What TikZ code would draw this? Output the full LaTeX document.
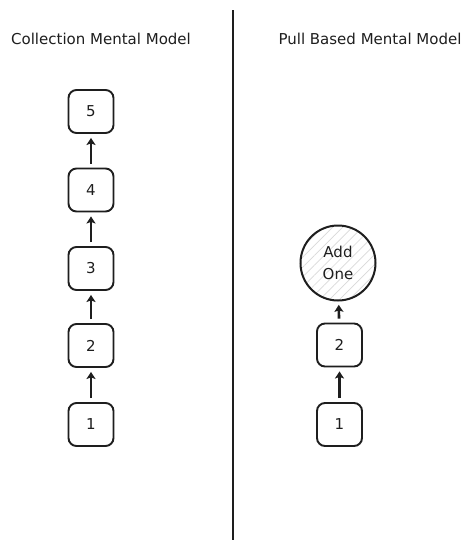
\documentclass[tikz,border=0pt]{standalone}
\usepackage{fontspec}
\setmainfont{DejaVu Sans}
\usetikzlibrary{arrows.meta,patterns.meta}
\definecolor{ink}{HTML}{1E1E1E}
\begin{document}
\begin{tikzpicture}[x=1pt,y=-1pt,
  box/.style={draw=ink,line width=1.9pt,rounded corners=8pt,minimum width=45pt,minimum height=43pt,inner sep=0pt,font=\fontsize{15}{17}\selectfont,text=ink},
  arr/.style={draw=ink,line width=2.6pt,-{Stealth[length=7pt,width=9pt,inset=1.5pt]},shorten <=4pt,shorten >=4pt},
  title/.style={font=\fontsize{15}{18}\selectfont,text=ink,inner sep=0pt}]
\useasboundingbox (0,0) rectangle (474,550);
\fill[white] (0,0) rectangle (474,550);
\coordinate (dtop) at (233,10);
\coordinate (dbot) at (233,540);
\draw[ink,line width=2.2pt] (dtop) -- (dbot);
\node[title] (t1) at (101,39) {Collection Mental Model};
\node[title] (t2) at (370,39) {Pull Based Mental Model};
\node[box] (l5) at (91,111.5) {5};
\node[box] (l4) at (91,190) {4};
\node[box] (l3) at (91,268.5) {3};
\node[box] (l2) at (91,345.5) {2};
\node[box] (l1) at (91,424.5) {1};
\draw[arr] (l1) -- (l2);
\draw[arr] (l2) -- (l3);
\draw[arr] (l3) -- (l4);
\draw[arr] (l4) -- (l5);
\node[draw=ink,line width=2pt,circle,minimum size=75pt,inner sep=0pt,
  pattern={Lines[angle=45,distance=7pt,line width=0.7pt]},pattern color=gray!30,
  align=center,font=\fontsize{15}{22}\selectfont,text=ink] (add) at (338,263) {Add\\One};
\node[box] (r2) at (339.5,345) {2};
\node[box] (r1) at (339.5,424.5) {1};
\draw[arr] (r1) -- (r2);
\draw[arr] (r2) -- (add);
\end{tikzpicture}
\end{document}
